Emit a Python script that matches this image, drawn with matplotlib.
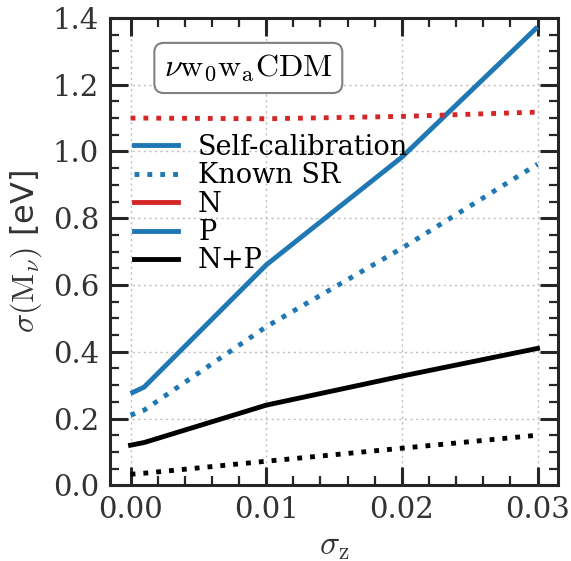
import matplotlib
matplotlib.use("Agg")
import matplotlib.pyplot as plt
from matplotlib.lines import Line2D
from matplotlib.ticker import MultipleLocator

sigma_z = [0.0, 0.001, 0.01, 0.02, 0.03]
p_self = [0.275, 0.294, 0.66, 0.983, 1.373]
p_known = [0.21, 0.225, 0.475, 0.71, 0.962]
n_known = [1.100, 1.100, 1.098, 1.105, 1.118]
np_self = [0.12, 0.128, 0.24, 0.327, 0.41]
np_known = [0.033, 0.036, 0.072, 0.111, 0.15]

legend_labels = ["Self-calibration", "Known SR", "N", "P", "N+P"]
box_text = r"$\nu\mathrm{w}_0\mathrm{w}_\mathrm{a}\mathrm{CDM}$"

plt.rcParams["mathtext.fontset"] = "cm"
plt.rcParams["font.family"] = "DejaVu Serif"

blue = "#1f77b4"
red = "#d62728"
dark = "#262626"

fig = plt.figure(figsize=(5.71, 5.61), dpi=100)
ax = fig.add_axes([0.193, 0.135, 0.784, 0.833])

lw = 3.5
ax.plot(sigma_z, p_self, color=blue, lw=lw, solid_capstyle="butt")
ax.plot(sigma_z, p_known, color=blue, lw=lw, ls=":")
ax.plot(sigma_z, n_known, color=red, lw=lw, ls=":")
ax.plot(sigma_z, np_self, color="black", lw=lw)
ax.plot(sigma_z, np_known, color="black", lw=lw, ls=":")

ax.set_xlim(-0.0015, 0.0315)
ax.set_ylim(0, 1.4)
ax.xaxis.set_major_locator(MultipleLocator(0.01))
ax.xaxis.set_minor_locator(MultipleLocator(0.002))
ax.yaxis.set_major_locator(MultipleLocator(0.2))
ax.yaxis.set_minor_locator(MultipleLocator(0.05))
ax.tick_params(which="both", direction="in", top=True, right=True, colors=dark,
               labelsize=21, labelcolor="#333333")
ax.tick_params(which="major", length=13, width=2.2, pad=8)
ax.tick_params(which="minor", length=6.5, width=1.6)
ax.set_xticks([0, 0.01, 0.02, 0.03])
ax.set_xticklabels(["0.00", "0.01", "0.02", "0.03"])
ax.grid(True, which="major", ls=(0, (1.5, 2.5)), color="#bdbdbd", lw=1.0)
for s in ax.spines.values():
    s.set_color(dark)
    s.set_linewidth(2.2)

ax.set_xlabel(r"$\sigma_{\rm z}$", fontsize=24, labelpad=4, color="#333333")
ax.set_ylabel(r"$\sigma(\rm M_\nu)$ [eV]", fontsize=23, family="DejaVu Sans",
              color="#333333", labelpad=6)

handles = [
    Line2D([], [], color=blue, lw=lw),
    Line2D([], [], color=blue, lw=lw, ls=":"),
    Line2D([], [], color=red, lw=lw),
    Line2D([], [], color=blue, lw=lw),
    Line2D([], [], color="black", lw=lw),
]
ax.legend(handles, legend_labels, loc="upper left", bbox_to_anchor=(0.03, 0.775),
          frameon=False, fontsize=19.5, handlelength=1.6, labelspacing=0.05,
          handletextpad=0.75, borderaxespad=0.0)

ax.text(0.12, 0.893, box_text, transform=ax.transAxes, fontsize=23,
        va="center", ha="left",
        bbox=dict(boxstyle="round,pad=0.3", fc="white", ec="gray", lw=1.5))

fig.savefig("out.png", dpi=100)
